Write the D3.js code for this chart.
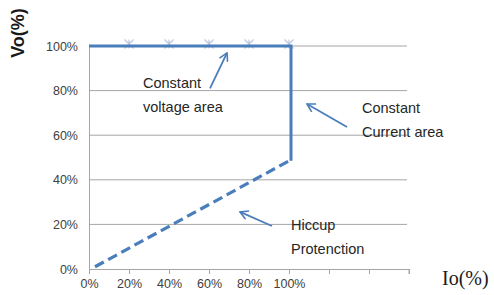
<!DOCTYPE html>
<html><head><meta charset="utf-8">
<script src="https://cdn.jsdelivr.net/npm/d3@7"></script>
<style>body{margin:0;background:#fff}svg{display:block}</style>
</head><body>
<svg id="c" width="494" height="295"></svg>
<script>
// ---- data ----
const xTickValues = [0, 20, 40, 60, 80, 100, 120, 140, 160];
const xTickLabels = ["0%", "20%", "40%", "60%", "80%", "100%", "", "", ""];
const yTickValues = [0, 20, 40, 60, 80, 100];
const yTickLabels = ["0%", "20%", "40%", "60%", "80%", "100%"];
const solidIo = [0, 101, 101];
const solidVo = [100, 100, 48.5];
const dashedIo = [3, 100];
const dashedVo = [1, 48.5];
const markerIo = [20, 40, 60, 80, 100];
const markerVo = [100, 100, 100, 100, 100];
const noteLines = [["Constant", "voltage area"], ["Constant", "Current area"], ["Hiccup", "Protenction"]];
const noteIo = [27, 136.5, 101];
const noteVo = [81.2, 70, 17.5];
const arrowFromIo = [60.5, 129, 91.5];
const arrowFromVo = [81, 63.7, 19.3];
const arrowToIo = [69, 109, 75.5];
const arrowToVo = [96.9, 74, 25.6];

// ---- drawing ----
const svg = d3.select("#c");
const x = d3.scaleLinear().domain([0, 160]).range([89, 409]);
const y = d3.scaleLinear().domain([0, 100]).range([269, 46]);
const blue = "#4a7ebb";

// gridlines
svg.append("g").selectAll("line").data(yTickValues.filter(v => v > 0)).join("line")
  .attr("x1", x(0)).attr("x2", x(159)).attr("y1", d => y(d)).attr("y2", d => y(d))
  .attr("stroke", "#a6a6a6").attr("stroke-width", 1);

// y axis
const yAxis = svg.append("g").attr("transform", `translate(${x(0)},0)`)
  .call(d3.axisLeft(y).tickValues(yTickValues).tickSize(0).tickPadding(11)
    .tickFormat((d, i) => yTickLabels[i]));
yAxis.select(".domain").attr("stroke", "#a6a6a6");
yAxis.selectAll("text").attr("font-family", "Liberation Sans, Arial, sans-serif")
  .attr("font-size", "12.5px").attr("fill", "#404040");

// x axis
const xAxis = svg.append("g").attr("transform", `translate(0,${y(0)})`)
  .call(d3.axisBottom(x).tickValues(xTickValues).tickSize(5).tickPadding(5)
    .tickFormat((d, i) => xTickLabels[i]));
xAxis.select(".domain").attr("stroke", "#a6a6a6").attr("d", `M${x(0)},0.5H${x(160)}V5`);
xAxis.selectAll(".tick line").attr("stroke", "#a6a6a6");
xAxis.selectAll("text").attr("font-family", "Liberation Sans, Arial, sans-serif")
  .attr("font-size", "12.5px").attr("fill", "#404040");

// markers (star), mostly hidden behind the line
const mk = svg.append("g");
markerIo.forEach((v, i) => {
  const cx = x(v), cy = y(markerVo[i]) - 2, r = 4.5;
  mk.append("path")
    .attr("d", `M${cx - r},${cy - r}L${cx + r},${cy + r}M${cx + r},${cy - r}L${cx - r},${cy + r}M${cx},${cy - r}V${cy + r}`)
    .attr("stroke", "#b9c5da").attr("stroke-width", 1.1).attr("fill", "none");
});

const line = d3.line().x(d => x(d[0])).y(d => y(d[1]));
svg.append("path").attr("d", line(solidIo.map((v, i) => [v, solidVo[i]])))
  .attr("fill", "none").attr("stroke", blue).attr("stroke-width", 3);
svg.append("path").attr("d", line(dashedIo.map((v, i) => [v, dashedVo[i]])))
  .attr("fill", "none").attr("stroke", blue).attr("stroke-width", 3.2)
  .attr("stroke-dasharray", "10,5");

// annotations
svg.append("defs").append("marker").attr("id", "ah")
  .attr("viewBox", "0 0 10 10").attr("refX", 9).attr("refY", 5)
  .attr("markerWidth", 10).attr("markerHeight", 10).attr("orient", "auto")
  .attr("markerUnits", "userSpaceOnUse")
  .append("path").attr("d", "M1,0.5L9,5L1,9.5").attr("fill", "none")
  .attr("stroke", blue).attr("stroke-width", 1.6);

arrowFromIo.forEach((v, i) => {
  svg.append("line")
    .attr("x1", x(v)).attr("y1", y(arrowFromVo[i]))
    .attr("x2", x(arrowToIo[i])).attr("y2", y(arrowToVo[i]))
    .attr("stroke", blue).attr("stroke-width", 1.8).attr("marker-end", "url(#ah)");
});

noteLines.forEach((lines, i) => {
  const t = svg.append("text").attr("x", x(noteIo[i])).attr("y", y(noteVo[i]))
    .attr("font-family", "Liberation Sans, Arial, sans-serif").attr("font-size", "14.5px")
    .attr("fill", "#262626");
  lines.forEach((s, j) => t.append("tspan").attr("x", x(noteIo[i])).attr("dy", j ? 24 : 0).text(s));
});

// axis titles
svg.append("text").attr("transform", "translate(24,33) rotate(-90)")
  .attr("text-anchor", "middle").attr("font-family", "Liberation Sans, Arial, sans-serif")
  .attr("font-weight", "bold").attr("font-size", "18px").attr("fill", "#1a1a1a").text("Vo(%)");
svg.append("text").attr("x", 442).attr("y", 285)
  .attr("font-family", "Liberation Serif, Times New Roman, serif")
  .attr("font-size", "20px").attr("fill", "#1a1a1a").text("Io(%)");
</script>
</body></html>
